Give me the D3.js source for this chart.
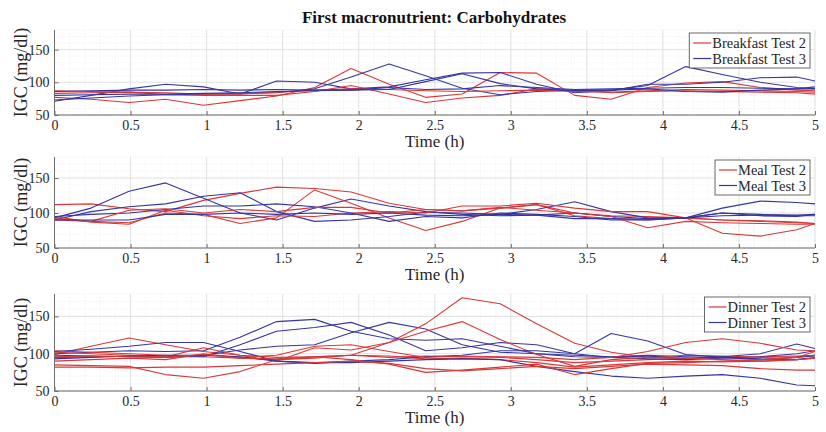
<!DOCTYPE html>
<html>
<head>
<meta charset="utf-8">
<script src="https://cdn.jsdelivr.net/npm/d3@7"></script>
<style>
  body { margin: 0; background: #fff; }
  svg { font-family: "Liberation Serif", "Times New Roman", serif; }
  .grid-major line { stroke: #dcdcdc; stroke-width: 0.8; }
  .grid-minor line { stroke: #ececec; stroke-width: 0.6; stroke-dasharray: 1.5,1.5; }
  .axis path, .axis line { stroke: #6e6e6e; }
  .axis text { fill: #262626; font-size: 14px; }
</style>
</head>
<body>
<svg id="chart" width="826" height="432"></svg>
<script>
// sample times (h), every ~15 min
var times = [0, 0.24, 0.49, 0.73, 0.98, 1.22, 1.46, 1.71, 1.95, 2.2, 2.44,
             2.68, 2.93, 3.17, 3.42, 3.66, 3.9, 4.15, 4.39, 4.64, 4.88, 5.0];

var yTicks = [50, 100, 150];
var xTicks = [0, 0.5, 1, 1.5, 2, 2.5, 3, 3.5, 4, 4.5, 5];

var breakfastTest2 = [
  [77, 74, 69, 74, 65, 72, 79, 92, 121, 97, 77, 82, 115, 114, 80, 74, 92, 99, 101, 92, 88, 87],
  [83, 84, 85, 81, 80, 80, 80, 86, 95, 82, 69, 76, 80, 90, 88, 84, 86, 87, 86, 85, 84, 82],
  [87, 86, 85, 84, 82, 82, 85, 88, 90, 89, 87, 86, 87, 88, 86, 85, 87, 89, 88, 87, 86, 85]
];
var breakfastTest3 = [
  [71, 80, 90, 97, 93, 82, 102, 100, 90, 93, 104, 114, 115, 97, 84, 87, 97, 97, 100, 107, 108, 102],
  [73, 76, 79, 81, 82, 83, 84, 90, 108, 128, 110, 91, 81, 86, 88, 88, 95, 124, 112, 100, 92, 90],
  [86, 87, 88, 88, 89, 88, 89, 88, 88, 92, 89, 90, 95, 92, 89, 90, 91, 92, 92, 91, 90, 90],
  [80, 81, 82, 82, 83, 84, 86, 87, 88, 89, 101, 113, 98, 90, 87, 88, 90, 86, 85, 88, 90, 93]
];

var mealTest2 = [
  [112, 113, 106, 102, 118, 128, 137, 135, 130, 114, 105, 103, 107, 112, 100, 96, 95, 93, 90, 89, 87, 85],
  [90, 88, 86, 100, 98, 85, 93, 133, 114, 93, 75, 88, 107, 112, 96, 92, 90, 93, 90, 88, 86, 85],
  [95, 87, 84, 104, 96, 92, 96, 95, 100, 102, 100, 110, 110, 114, 107, 102, 102, 93, 71, 67, 76, 85],
  [92, 88, 104, 106, 100, 105, 102, 108, 108, 100, 105, 103, 108, 104, 100, 95, 79, 88, 86, 85, 84, 84]
];
var mealTest3 = [
  [93, 107, 131, 143, 121, 100, 90, 107, 120, 110, 102, 98, 96, 97, 100, 95, 92, 93, 100, 96, 95, 98],
  [90, 102, 109, 113, 124, 129, 102, 88, 90, 95, 101, 100, 98, 105, 116, 102, 93, 93, 107, 117, 115, 113],
  [95, 98, 100, 105, 110, 110, 113, 109, 100, 88, 95, 93, 100, 98, 95, 90, 90, 93, 100, 98, 97, 98],
  [90, 90, 90, 98, 98, 100, 98, 100, 98, 100, 97, 96, 98, 97, 92, 92, 91, 93, 96, 97, 96, 96]
];

var dinnerTest2 = [
  [99, 110, 121, 112, 103, 98, 95, 96, 98, 95, 97, 96, 95, 92, 88, 90, 92, 94, 95, 96, 97, 98],
  [85, 84, 83, 72, 67, 76, 92, 96, 98, 97, 93, 94, 92, 88, 82, 85, 88, 90, 89, 90, 92, 94],
  [104, 102, 100, 98, 96, 94, 92, 94, 98, 115, 140, 175, 167, 140, 114, 102, 95, 98, 97, 95, 96, 98],
  [102, 100, 98, 96, 108, 98, 90, 108, 105, 115, 130, 143, 119, 99, 83, 92, 95, 94, 92, 90, 92, 94],
  [90, 92, 94, 92, 100, 95, 98, 110, 112, 103, 95, 97, 96, 95, 92, 95, 103, 115, 120, 114, 105, 104],
  [82, 82, 81, 82, 82, 84, 86, 88, 90, 87, 80, 77, 80, 83, 80, 83, 86, 85, 84, 80, 78, 78],
  [96, 97, 96, 95, 99, 94, 93, 96, 92, 86, 75, 78, 82, 86, 72, 80, 87, 88, 90, 92, 95, 103]
];
var dinnerTest3 = [
  [100, 102, 104, 103, 104, 122, 143, 146, 130, 120, 118, 120, 110, 100, 96, 95, 93, 92, 94, 96, 100, 104],
  [98, 97, 96, 95, 98, 105, 110, 112, 128, 142, 133, 112, 102, 100, 98, 96, 98, 96, 95, 93, 92, 95],
  [95, 96, 97, 96, 96, 112, 130, 135, 142, 125, 104, 108, 115, 112, 100, 95, 97, 93, 96, 100, 113, 107],
  [103, 106, 110, 115, 115, 103, 90, 87, 90, 92, 96, 98, 104, 104, 100, 127, 117, 99, 95, 92, 95, 97],
  [93, 95, 97, 98, 98, 96, 90, 88, 88, 90, 92, 93, 92, 83, 76, 70, 67, 70, 72, 67, 58, 57]
];

var redColor = "#d83838",
    blueColor = "#3636a0";

var panels = [
  { name: "Breakfast", test2: breakfastTest2, test3: breakfastTest3, top: 30, bottom: 115 },
  { name: "Meal", test2: mealTest2, test3: mealTest3, top: 157, bottom: 248 },
  { name: "Dinner", test2: dinnerTest2, test3: dinnerTest3, top: 294, bottom: 391 }
];

var left = 54.5, right = 815;
var svg = d3.select("#chart");

svg.append("text")
  .attr("x", 434)
  .attr("y", 23)
  .attr("text-anchor", "middle")
  .style("font-size", "17px")
  .style("font-weight", "bold")
  .attr("fill", "#111")
  .text("First macronutrient: Carbohydrates");

panels.forEach(function(p, k) {
  var x = d3.scaleLinear().domain([0, 5]).range([left, right]);
  var y = d3.scaleLinear().domain([50, 180]).range([p.bottom, p.top]);
  var g = svg.append("g");
  var clipId = "clip" + k;

  g.append("clipPath").attr("id", clipId)
    .append("rect")
      .attr("x", left).attr("y", p.top)
      .attr("width", right - left).attr("height", p.bottom - p.top);

  // minor grid
  var minor = g.append("g").attr("class", "grid-minor");
  minor.selectAll("line.vx").data(d3.range(0, 5.01, 0.1)).enter().append("line")
      .attr("class", "vx")
      .attr("x1", function(d) { return x(d); }).attr("x2", function(d) { return x(d); })
      .attr("y1", p.top).attr("y2", p.bottom);
  minor.selectAll("line.hy").data(d3.range(50, 181, 10)).enter().append("line")
      .attr("class", "hy")
      .attr("x1", left).attr("x2", right)
      .attr("y1", function(d) { return y(d); }).attr("y2", function(d) { return y(d); });

  // major grid
  var major = g.append("g").attr("class", "grid-major");
  major.selectAll("line.vx").data(xTicks).enter().append("line")
    .attr("class", "vx")
    .attr("x1", function(d) { return x(d); }).attr("x2", function(d) { return x(d); })
    .attr("y1", p.top).attr("y2", p.bottom);
  major.selectAll("line.hy").data(yTicks).enter().append("line")
    .attr("class", "hy")
    .attr("x1", left).attr("x2", right)
    .attr("y1", function(d) { return y(d); }).attr("y2", function(d) { return y(d); });

  var line = d3.line()
    .x(function(d, i) { return x(times[i]); })
    .y(function(d) { return y(d); });

  var lines = g.append("g").attr("clip-path", "url(#" + clipId + ")")
    .attr("fill", "none").attr("stroke-width", 1.1).attr("stroke-linejoin", "round");

  // interleave test 2 and test 3 so neither colour sits fully on top
  var all = [];
  var n = Math.max(p.test2.length, p.test3.length);
  for (var i = 0; i < n; i++) {
    if (p.test2[i]) all.push({ v: p.test2[i], c: redColor });
    if (p.test3[i]) all.push({ v: p.test3[i], c: blueColor });
  }
  lines.selectAll("path").data(all).enter().append("path")
    .attr("d", function(d) { return line(d.v); })
    .attr("stroke", function(d) { return d.c; });

  // axes
  g.append("g").attr("class", "axis")
    .attr("transform", "translate(0," + p.bottom + ")")
    .call(d3.axisBottom(x).tickValues(xTicks).tickFormat(d3.format("")).tickSizeInner(-4).tickSizeOuter(0).tickPadding(5))
    .call(function(a) { a.select(".domain").attr("d", "M" + left + ",0H" + right); })
    .attr("font-family", null).attr("font-size", null);

  g.append("g").attr("class", "axis")
    .attr("transform", "translate(" + left + ",0)")
    .call(d3.axisLeft(y).tickValues(yTicks).tickSizeInner(-4).tickSizeOuter(0).tickPadding(5))
    .call(function(a) { a.select(".domain").attr("d", "M0," + p.top + "V" + p.bottom); })
    .attr("font-family", null).attr("font-size", null);

  // axis labels
  g.append("text")
    .attr("x", (left + right) / 2)
    .attr("y", p.bottom + 32)
    .attr("text-anchor", "middle")
    .style("font-size", "17px")
    .attr("fill", "#262626")
    .text("Time (h)");

  g.append("text")
    .attr("transform", "translate(27," + ((p.top + p.bottom) / 2) + ") rotate(-90)")
    .attr("text-anchor", "middle")
    .style("font-size", "18px")
    .attr("fill", "#262626")
    .text("IGC (mg/dl)");

  // legend
  var items = [
    { label: p.name + " Test 2", c: redColor },
    { label: p.name + " Test 3", c: blueColor }
  ];
  var lg = g.append("g");
  var texts = lg.selectAll("text").data(items).enter().append("text")
    .attr("y", function(d, i) { return p.top + 18 + i * 15.5; })
    .style("font-size", "14.5px")
    .attr("fill", "#262626")
    .text(function(d) { return d.label; });
  var tw = d3.max(texts.nodes(), function(t) { return t.getComputedTextLength(); });
  var boxRight = right - 5, boxW = tw + 27, boxX = boxRight - boxW;
  lg.insert("rect", "text")
    .attr("x", boxX).attr("y", p.top + 3)
    .attr("width", boxW).attr("height", 35)
    .attr("fill", "#fff").attr("stroke", "#444").attr("stroke-width", 0.8);
  texts.attr("x", boxX + 23);
  lg.selectAll("line").data(items).enter().append("line")
    .attr("x1", boxX + 4).attr("x2", boxX + 22)
    .attr("y1", function(d, i) { return p.top + 13 + i * 15.5; })
    .attr("y2", function(d, i) { return p.top + 13 + i * 15.5; })
    .attr("stroke", function(d) { return d.c; })
    .attr("stroke-width", 1.2);
});
</script>
</body>
</html>
